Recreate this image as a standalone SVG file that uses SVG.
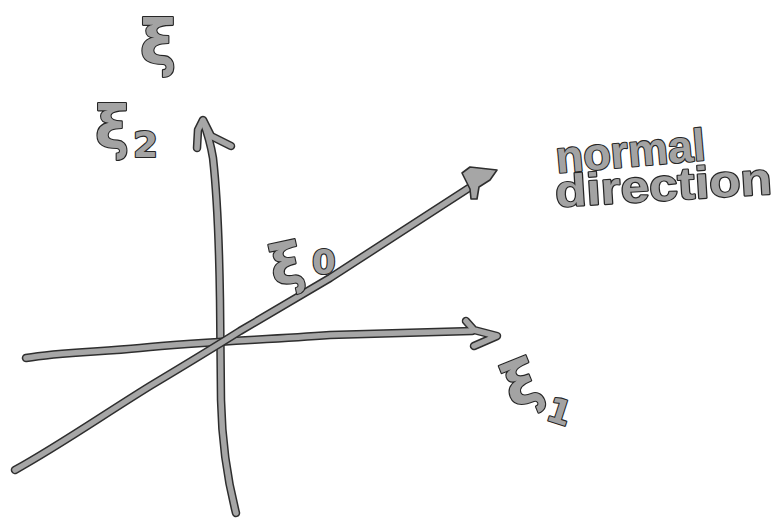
<svg xmlns="http://www.w3.org/2000/svg" width="784" height="520" viewBox="0 0 784 520">
<defs>
<style>
.outer{fill:none;stroke:#2e2e2e;stroke-width:8.5;stroke-linecap:round;stroke-linejoin:round}
.inner{fill:none;stroke:#a6a6a6;stroke-width:5.5;stroke-linecap:round;stroke-linejoin:round}
.head{fill:#a6a6a6;stroke:#2e2e2e;stroke-width:1.6;stroke-linejoin:round}
.lbl{font-family:"DejaVu Sans","Liberation Sans",sans-serif;font-weight:bold;fill:#a3a3a3;stroke:#262626;stroke-width:2.2;stroke-linejoin:round;paint-order:stroke}
.word{font-family:"Liberation Sans","DejaVu Sans",sans-serif;font-weight:bold;font-size:45px;fill:#a3a3a3;stroke:#262626;stroke-width:2.2;stroke-linejoin:round;paint-order:stroke}
</style>
</defs>
<rect width="784" height="520" fill="#ffffff"/>
<g id="connectors">
  <g id="axis-xi2">
    <path class="outer" d="M 236 513 C 228 482, 222 445, 221 400 L 220 300 C 219 232, 216 185, 213 158 C 210 140, 206 129, 203 121"/>
    <path class="outer" d="M 197 148 L 198 130 L 203 120 L 211 136 L 231 146"/>
    <path class="inner" d="M 236 513 C 228 482, 222 445, 221 400 L 220 300 C 219 232, 216 185, 213 158 C 210 140, 206 129, 203 121"/>
    <path class="inner" d="M 197 148 L 198 130 L 203 120 L 211 136 L 231 146"/>
  </g>
  <g id="axis-xi1">
    <path class="outer" d="M 26 358 C 60 352, 100 352, 140 348 C 200 342, 260 340, 330 335 L 472 331"/>
    <path class="outer" d="M 466 321 L 474 330 L 497 336 L 474 346"/>
    <path class="inner" d="M 26 358 C 60 352, 100 352, 140 348 C 200 342, 260 340, 330 335 L 472 331"/>
    <path class="inner" d="M 466 321 L 474 330 L 497 336 L 474 346"/>
  </g>
  <g id="axis-xi0">
    <path class="outer" d="M 15 470 C 60 445, 100 417, 150 386 C 180 368, 210 350, 240 331 L 330 278 L 472 186"/>
    <path class="inner" d="M 15 470 C 60 445, 100 417, 150 386 C 180 368, 210 350, 240 331 L 330 278 L 472 186"/>
    <polygon class="head" points="462,173 470,167 497,170 490,180 479,187 477,199 471,199 470,189"/>
  </g>
</g>
<g id="label-xi">
  <text class="lbl" x="158" y="64" font-size="62" text-anchor="middle">ξ</text>
</g>
<g id="label-xi2">
  <text class="lbl" x="95" y="148" font-size="58">ξ</text>
  <text class="lbl" x="133" y="157" font-size="36">2</text>
</g>
<g id="label-xi0">
  <text class="lbl" x="271" y="284" font-size="56" transform="rotate(-12 287 270)">ξ</text>
  <text class="lbl" x="312" y="274" font-size="34">0</text>
</g>
<g id="label-xi1">
  <text class="lbl" x="505" y="402" font-size="60" transform="rotate(-22 528 385)">ξ</text>
  <text class="lbl" x="548" y="423" font-size="34" transform="rotate(18 558 410)">1</text>
</g>
<g id="label-normal">
  <text class="word" x="557" y="173" textLength="150" lengthAdjust="spacingAndGlyphs" transform="rotate(-5 557 173)">normal</text>
  <text class="word" x="556" y="207" textLength="217" lengthAdjust="spacingAndGlyphs" transform="rotate(-3.5 556 207)">direction</text>
</g>
</svg>
